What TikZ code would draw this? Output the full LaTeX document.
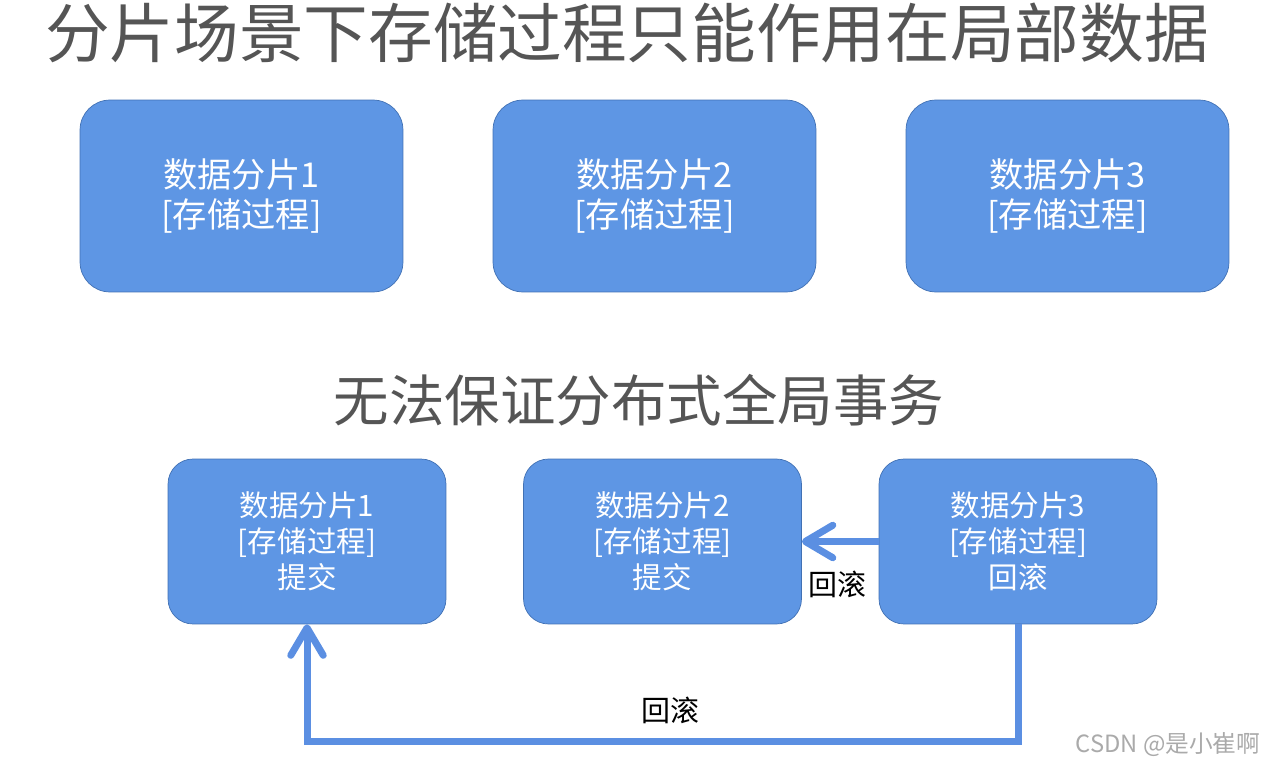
\documentclass[tikz,border=0pt]{standalone}
\usepackage{fontspec}
\setmainfont{Noto Sans CJK SC}
\usetikzlibrary{arrows.meta}
\definecolor{shard}{RGB}{94,150,228}
\definecolor{shardedge}{RGB}{65,113,180}
\definecolor{flow}{RGB}{91,143,226}
\definecolor{heading}{RGB}{85,85,85}
\definecolor{wmgray}{RGB}{170,170,170}

\begin{document}
\begin{tikzpicture}[x=0.02cm, y=-0.02cm,
      shardbig/.style={draw=shardedge, fill=shard, rounded corners=0.6cm, minimum width=6.46cm, minimum height=3.84cm, align=center, text=white, font=\fontsize{19.5}{22.7}\selectfont},
      shardsmall/.style={draw=shardedge, fill=shard, rounded corners=0.5cm, minimum width=5.56cm, minimum height=3.3cm, align=center, text=white, font=\fontsize{16.8}{20.5}\selectfont},
      rollback/.style={draw=flow, line width=0.14cm, -{Straight Barb[length=0.55cm,width=0.65cm,round]}},
      lbl/.style={font=\fontsize{16.5}{20}\selectfont}
    ]
      \useasboundingbox (0,0) rectangle (1268,767);

      % Titles
      \node[heading, font=\fontsize{36.8}{44}\selectfont] (t1) at (627,33) {分片场景下存储过程只能作用在局部数据};
      \node[heading, font=\fontsize{31.6}{38}\selectfont] (t2) at (639,400) {无法保证分布式全局事务};

      % Shards, top row
      \node[shardbig] (a1) at (241.5,196) {数据分片1\\{[存储过程]}};
      \node[shardbig] (a2) at (654.5,196) {数据分片2\\{[存储过程]}};
      \node[shardbig] (a3) at (1067.5,196) {数据分片3\\{[存储过程]}};

      % Shards, bottom row
      \node[shardsmall] (b1) at (307,541.5) {数据分片1\\{[存储过程]}\\提交};
      \node[shardsmall] (b2) at (662.5,541.5) {数据分片2\\{[存储过程]}\\提交};
      \node[shardsmall] (b3) at (1018,541.5) {数据分片3\\{[存储过程]}\\回滚};

      % Rollback arrows
      \draw[rollback] (b3.west) -- (b2.east);
      \draw[rollback] (b3.south) -- ++(0,117) -| (b1.south);
      \node[lbl] (l1) at (837,584) {回滚};
      \node[lbl] (l2) at (670,710) {回滚};

      % Watermark
      \node[wmgray, font=\fontsize{13.5}{16}\selectfont] (wm) at (1168,745) {CSDN @是小崔啊};
    \end{tikzpicture}
\end{document}
